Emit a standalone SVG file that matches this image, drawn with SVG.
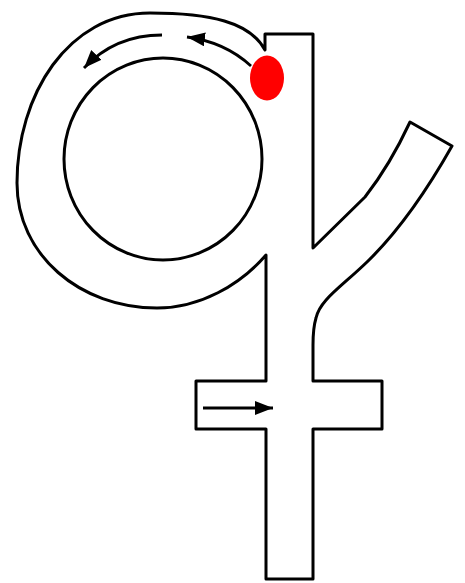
<svg xmlns="http://www.w3.org/2000/svg" width="465" height="583" viewBox="0 0 465 583">
<style>
.outline{fill:none;stroke:#000;stroke-width:3;stroke-linejoin:round}
.arrow{fill:none;stroke:#000;stroke-width:2.8}
</style>
<defs>
<marker id="ah" markerUnits="userSpaceOnUse" markerWidth="19" markerHeight="14" refX="18" refY="7" orient="auto">
<path d="M0,0 L18,7 L0,14 z" fill="#000"/>
</marker>
</defs>
<rect width="465" height="583" fill="#fff"/>
<g id="letter">
<path class="outline" d="M265,50 L265,34 L313,34 L313,248 L365,197 Q390,165 410,122 L452,146 C430,185 400,230 367,262 C340,288 320,300 316,318 Q313,328 313,345 L313,381 L382,381 L382,429 L313,429 L313,579 L266,579 L266,429 L196,429 L196,381 L266,381 L266,255 C240,285 200,308 157,308 C80,308 17,255 17,183 C17,95 68,13 150,13 C210,13 250,22 265,50 Z"/>
<ellipse class="outline" cx="163" cy="159" rx="99" ry="101"/>
</g>
<g id="start-dot">
<ellipse cx="267" cy="78" rx="17" ry="22.5" fill="#f00"/>
</g>
<g id="connectors">
<path class="arrow" marker-end="url(#ah)" d="M251,66 Q225,42 187,37"/>
<path class="arrow" marker-end="url(#ah)" d="M162,35 Q115,35 84,68"/>
<path class="arrow" marker-end="url(#ah)" d="M203,408 L273,408"/>
</g>
</svg>
